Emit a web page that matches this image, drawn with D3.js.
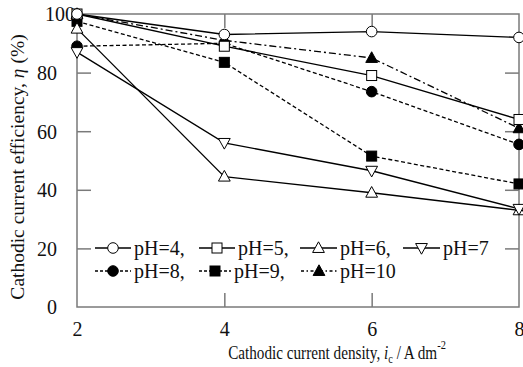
<!DOCTYPE html>
<html>
<head>
<meta charset="utf-8">
<script src="https://cdn.jsdelivr.net/npm/d3@7/dist/d3.min.js"></script>
<style>
  html, body { margin: 0; padding: 0; background: #fff; }
  svg { display: block; }
  text { font-family: "Liberation Serif", "Times New Roman", serif; fill: #111; }
</style>
</head>
<body>
<svg id="chart" width="523" height="367"></svg>
<script>
// ---- data ----
const currentDensity = [2, 4, 6, 8];
const pH4  = [100, 93, 94, 92];
const pH5  = [100, 89, 79, 64];
const pH6  = [95, 44.5, 39, 33];
const pH7  = [87, 56, 46.5, 33.5];
const pH8  = [89, 90, 73.5, 55.5];
const pH9  = [97.5, 83.5, 51.5, 42];
const pH10 = [100, 91, 85, 61];
const xTicks = [2, 4, 6, 8];
const yTicks = [0, 20, 40, 60, 80, 100];
const seriesNames = ["pH=4", "pH=5", "pH=6", "pH=7", "pH=8", "pH=9", "pH=10"];

const series = [
  { name: seriesNames[0], values: pH4,  marker: "circle",   fill: "#fff", dash: null },
  { name: seriesNames[1], values: pH5,  marker: "square",   fill: "#fff", dash: null },
  { name: seriesNames[2], values: pH6,  marker: "triUp",    fill: "#fff", dash: null },
  { name: seriesNames[3], values: pH7,  marker: "triDown",  fill: "#fff", dash: null },
  { name: seriesNames[4], values: pH8,  marker: "circle",   fill: "#000", dash: "4,2.5" },
  { name: seriesNames[5], values: pH9,  marker: "square",   fill: "#000", dash: "4,2.5" },
  { name: seriesNames[6], values: pH10, marker: "triUp",    fill: "#000", dash: "7,3,2,3" }
];

const svg = d3.select("#chart");
const L = 77, R = 519, T = 14, B = 307;
const x = d3.scaleLinear().domain([2, 8]).range([L, R]);
const y = d3.scaleLinear().domain([0, 100]).range([B, T]);
const frameColor = "#7a7a7a";
const tickLen = 14;

// frame
svg.append("rect").attr("x", L).attr("y", T).attr("width", R - L).attr("height", B - T)
  .attr("fill", "none").attr("stroke", frameColor).attr("stroke-width", 1.5);

// axes (inward ticks)
const xAxisB = d3.axisBottom(x).tickValues(xTicks).tickFormat(d3.format("d")).tickSizeInner(-tickLen).tickSizeOuter(0);
const gxB = svg.append("g").attr("transform", `translate(0,${B})`).call(xAxisB);
const xAxisT = d3.axisTop(x).tickValues([4, 6]).tickSizeInner(-tickLen).tickSizeOuter(0).tickFormat("");
const gxT = svg.append("g").attr("transform", `translate(0,${T})`).call(xAxisT);
const yAxisL = d3.axisLeft(y).tickValues(yTicks).tickFormat(d3.format("d")).tickSizeInner(-tickLen).tickSizeOuter(0).tickPadding(tickLen + 6);
const gyL = svg.append("g").attr("transform", `translate(${L},0)`).call(yAxisL);
const yAxisR = d3.axisRight(y).tickValues([20, 40, 60, 80]).tickSizeInner(-tickLen).tickSizeOuter(0).tickFormat("");
const gyR = svg.append("g").attr("transform", `translate(${R},0)`).call(yAxisR);

[gxB, gxT, gyL, gyR].forEach(g => {
  g.select(".domain").remove();
  g.selectAll(".tick line").attr("stroke", frameColor).attr("stroke-width", 1.5);
  g.selectAll(".tick text").attr("font-size", 20).attr("fill", "#111");
});
gyL.selectAll(".tick text").attr("dy", "0.34em");
gyL.selectAll(".tick text").filter(d => d === 100).attr("x", -2);
gxB.selectAll(".tick text").attr("dy", null).attr("y", 29);
gyL.selectAll(".tick line").filter(d => d === 0 || d === 100).remove();
gxB.selectAll(".tick line").filter(d => d === 2 || d === 8).remove();

// symbols
function drawMarker(g, type, cx, cy, fill) {
  let el;
  if (type === "circle") {
    el = g.append("circle").attr("cx", cx).attr("cy", cy).attr("r", 5.3);
  } else if (type === "square") {
    el = g.append("rect").attr("x", cx - 5).attr("y", cy - 5).attr("width", 10).attr("height", 10);
  } else if (type === "triUp") {
    const s = 6.2;
    el = g.append("path").attr("d", `M${cx},${cy - s}L${cx + s * 0.95},${cy + s * 0.72}L${cx - s * 0.95},${cy + s * 0.72}Z`);
  } else {
    const s = 6.2;
    el = g.append("path").attr("d", `M${cx},${cy + s}L${cx + s * 0.95},${cy - s * 0.72}L${cx - s * 0.95},${cy - s * 0.72}Z`);
  }
  el.attr("fill", fill).attr("stroke", "#000").attr("stroke-width", 1);
}

const line = d3.line().x((d, i) => x(currentDensity[i])).y(d => y(d));
const lineG = svg.append("g");
series.forEach(s => {
  lineG.append("path").attr("d", line(s.values)).attr("fill", "none")
    .attr("stroke", "#000").attr("stroke-width", 1.3)
    .attr("stroke-dasharray", s.dash);
});
const markG = svg.append("g");
const order = [6, 4, 5, 1, 2, 3, 0];
order.forEach(k => {
  const s = series[k];
  s.values.forEach((v, i) => drawMarker(markG, s.marker, x(currentDensity[i]), y(v), s.fill));
});

// legend
const legendItems = [
  { k: 0, lx: 95, row: 0, lw: 36 },
  { k: 1, lx: 199, row: 0, lw: 36 },
  { k: 2, lx: 300, row: 0, lw: 37 },
  { k: 3, lx: 403, row: 0, lw: 37 },
  { k: 4, lx: 95, row: 1, lw: 36 },
  { k: 5, lx: 199, row: 1, lw: 32 },
  { k: 6, lx: 301, row: 1, lw: 36 }
];
const rowY = [248, 271];
const legG = svg.append("g");
legendItems.forEach(it => {
  const s = series[it.k];
  const yy = rowY[it.row];
  legG.append("line").attr("x1", it.lx).attr("x2", it.lx + it.lw).attr("y1", yy).attr("y2", yy)
    .attr("stroke", "#000").attr("stroke-width", 1.3)
    .attr("stroke-dasharray", s.dash ? (it.k === 6 ? "3,2.5,1.5,2.5" : "3,2") : null);
  drawMarker(legG, s.marker, it.lx + it.lw / 2, yy, s.fill);
  const isLast = it.k === 3 || it.k === 6;
  legG.append("text").attr("x", it.lx + it.lw + 3).attr("y", yy + 7)
    .attr("font-size", 20).text(s.name + (isLast ? "" : ","));
});

// axis titles
const xt = svg.append("g").attr("transform", "translate(337,359) scale(0.8,1)")
  .append("text").attr("x", 0).attr("y", 0).attr("text-anchor", "middle").attr("font-size", 19);
xt.append("tspan").text("Cathodic current density, ");
xt.append("tspan").attr("font-style", "italic").text("i");
xt.append("tspan").attr("font-size", 13).attr("dy", 4).text("c");
xt.append("tspan").attr("dy", -4).text(" / A dm");
xt.append("tspan").attr("font-size", 13).attr("dy", -10).text("-2");

const yt = svg.append("text").attr("transform", "translate(24,167) rotate(-90)")
  .attr("text-anchor", "middle").attr("font-size", 19.5);
yt.append("tspan").text("Cathodic current efficiency, ");
yt.append("tspan").attr("font-style", "italic").text("η");
yt.append("tspan").text(" (%)");
</script>
</body>
</html>
